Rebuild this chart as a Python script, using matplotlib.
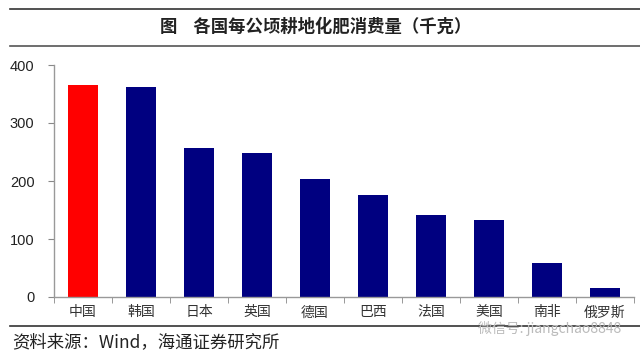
import matplotlib
matplotlib.use("Agg")
import matplotlib.pyplot as plt
from matplotlib.lines import Line2D
import numpy as np

plt.rcParams['font.family'] = ['Liberation Sans', 'Noto Sans CJK SC', 'DejaVu Sans']

countries = ["中国", "韩国", "日本", "英国", "德国", "巴西", "法国", "美国", "南非", "俄罗斯"]
values = [365, 362, 257, 248, 204, 176, 141, 132, 58, 16]
yticks = [0, 100, 200, 300, 400]
title = "图    各国每公顷耕地化肥消费量（千克）"
source = "资料来源：Wind，海通证券研究所"
watermark = "微信号: jiangchao8848"

fig = plt.figure(figsize=(6.4, 3.57), dpi=100)
ax = fig.add_axes([54/640, 1-297/357, 580/640, (297-65)/357])

x = np.arange(len(countries))
colors = ["#FF0000"] + ["#000080"] * (len(countries) - 1)
ax.bar(x, values, width=0.53, color=colors, edgecolor="none")

ax.set_xlim(-0.5, len(countries) - 0.5)
ax.set_ylim(0, 400)
ax.set_yticks(yticks)
ax.set_yticklabels([str(v) for v in yticks], fontsize=10.5, color="#222222")
ax.set_xticks(x)
ax.set_xticklabels(countries, fontsize=10, family=['Noto Sans CJK SC'], color="#333333")
ax.set_xticks(np.arange(-0.5, len(countries), 1), minor=True)
ax.tick_params(axis='x', which='major', length=0, pad=6)
ax.tick_params(axis='x', which='minor', length=4, color="#888888", direction='out')
ax.tick_params(axis='y', length=4, color="#888888", direction='out', pad=10)

for s in ["top", "right"]:
    ax.spines[s].set_visible(False)
for s in ["left", "bottom"]:
    ax.spines[s].set_color("#999999")
    ax.spines[s].set_linewidth(1.0)

# header lines and title
fig.add_artist(Line2D([10/640, 1.0], [1-9/357, 1-9/357], transform=fig.transFigure, color="#333333", lw=1.2))
fig.add_artist(Line2D([10/640, 1.0], [1-46/357, 1-46/357], transform=fig.transFigure, color="#555555", lw=1.2))
fig.text(316/640, 1-27/357, title, ha="center", va="center", fontsize=12.5,
         family=['Noto Sans CJK SC'], fontweight="bold", color="#222222")

# footer line and source
fig.add_artist(Line2D([10/640, 1.0], [1-326/357, 1-326/357], transform=fig.transFigure, color="#333333", lw=1.2))
fig.text(12/640, 1-342/357, source, ha="left", va="center", fontsize=12.5,
         family=['Noto Sans CJK SC', 'Liberation Sans'], color="#222222")
fig.text(478/640, 1-329/357, watermark, ha="left", va="center", fontsize=10,
         family=['Noto Sans CJK SC', 'Liberation Sans'], color="#bbbbbb")

fig.savefig("out.png", dpi=100)
